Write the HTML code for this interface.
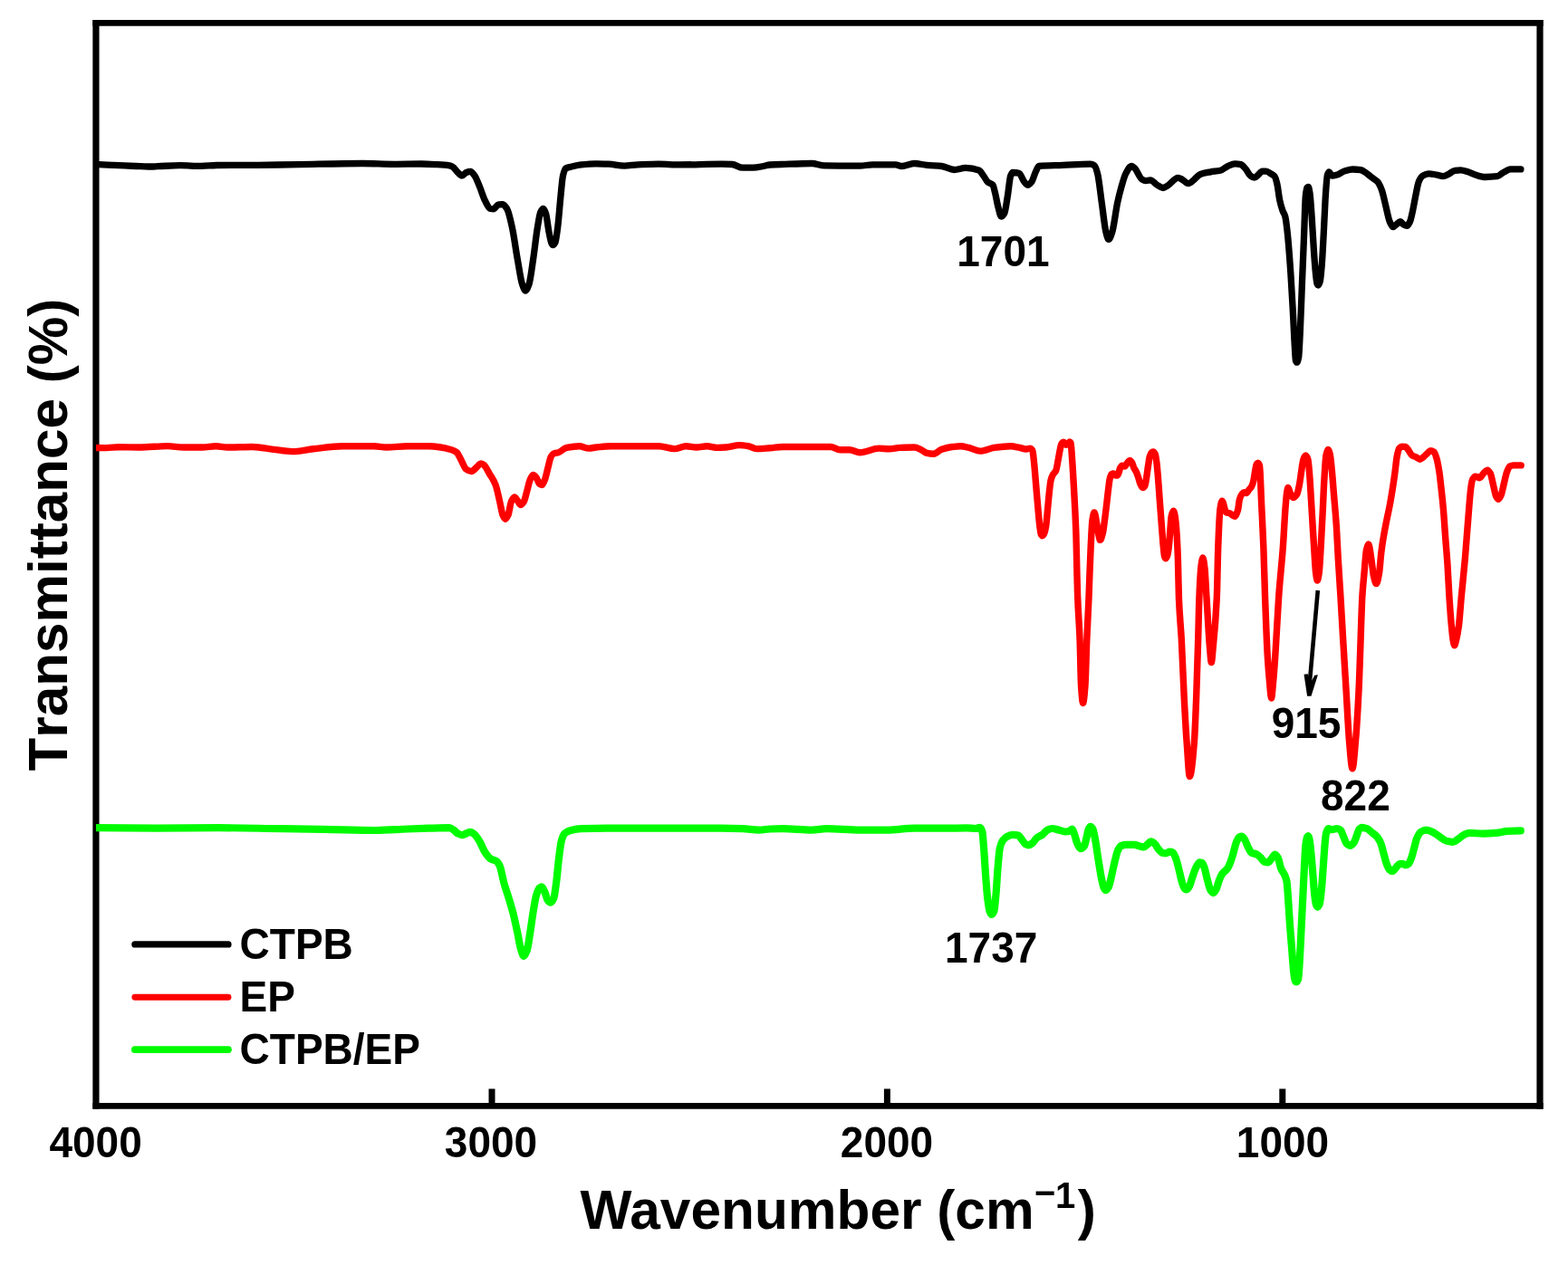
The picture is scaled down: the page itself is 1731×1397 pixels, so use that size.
<!DOCTYPE html>
<html lang="en">
<head>
<meta charset="utf-8">
<title>FTIR spectra: CTPB, EP, CTPB/EP</title>
<style>
html,body{margin:0;padding:0;background:#fff;}
body{width:1731px;height:1397px;overflow:hidden;}
svg{display:block;}
text{font-family:"Liberation Sans",Arial,Helvetica,sans-serif;font-weight:bold;fill:#000;font-kerning:none;}
.curve{fill:none;stroke-linejoin:round;stroke-linecap:round;}
.leg{fill:none;stroke-linecap:round;}
</style>
</head>
<body>
<svg width="1731" height="1397" viewBox="0 0 1731 1397">
<rect x="0" y="0" width="1731" height="1397" fill="#ffffff"/>
<g stroke="#000" stroke-linecap="butt">
<line x1="102.35" y1="25.45" x2="1703.60" y2="25.45" stroke-width="6.7"/>
<line x1="102.35" y1="1221.4" x2="1703.60" y2="1221.4" stroke-width="6.85"/>
<line x1="105.95" y1="22.10" x2="105.95" y2="1224.83" stroke-width="7.2"/>
<line x1="1700.0" y1="22.10" x2="1700.0" y2="1224.83" stroke-width="7.2"/>
</g>
<g stroke="#000" stroke-width="7.0">
<line x1="543.0" y1="1221.4" x2="543.0" y2="1202.45"/><line x1="979.4" y1="1221.4" x2="979.4" y2="1202.45"/><line x1="1415.8" y1="1221.4" x2="1415.8" y2="1202.45"/>
</g>
<clipPath id="plotclip"><rect x="105.95" y="25.45" width="1594.05" height="1195.95"/></clipPath>
<g clip-path="url(#plotclip)">
<path class="curve" d="M106.0,181.4C112.3,181.8 118.7,182.1 125.0,182.4C133.3,182.8 141.7,183.2 150.0,183.5C153.3,183.6 156.7,183.7 160.0,183.8C162.3,183.9 164.7,184.0 167.0,184.0C169.3,184.0 171.7,183.8 174.0,183.7C182.3,183.4 190.7,182.7 199.0,182.7C206.7,182.7 214.3,183.4 222.0,183.4C227.7,183.4 233.3,182.6 239.0,182.5C254.3,182.4 269.7,182.4 285.0,182.3C300.3,182.2 315.7,181.8 331.0,181.6C354.0,181.2 377.0,180.5 400.0,180.5C411.7,180.5 423.3,181.3 435.0,181.3C445.0,181.3 455.0,181.0 465.0,181.0C470.0,181.0 475.0,181.3 480.0,181.6C485.4,181.9 490.8,182.1 496.2,182.9C497.4,183.1 498.5,183.6 499.7,184.2C501.6,185.2 503.6,188.8 505.5,190.5C507.0,191.9 508.5,194.0 510.0,194.0C511.6,194.0 513.1,191.1 514.7,190.5C516.2,189.9 517.8,189.3 519.3,189.3C520.9,189.3 522.4,191.9 524.0,194.0C525.9,196.6 527.8,202.2 529.7,206.7C531.6,211.3 533.6,218.0 535.5,221.7C537.4,225.4 539.4,230.1 541.3,230.5C542.4,230.7 543.6,230.9 544.7,230.9C546.6,230.9 548.6,226.0 550.5,225.8C552.0,225.7 553.6,225.6 555.1,225.6C556.7,225.6 558.2,228.2 559.8,230.9C561.7,234.1 563.6,243.1 565.5,251.7C567.4,260.5 569.4,275.6 571.3,286.4C573.1,296.2 574.8,309.2 576.6,314.1C577.8,317.3 578.9,321.0 580.1,321.0C581.4,321.0 582.7,317.6 584.0,314.1C585.5,310.0 587.1,296.6 588.6,286.4C590.2,276.0 591.7,261.0 593.3,251.7C594.4,244.9 595.6,236.7 596.7,234.4C597.7,232.4 598.7,230.5 599.7,230.5C600.6,230.5 601.6,233.0 602.5,235.5C603.7,238.6 604.8,250.6 606.0,256.3C607.0,261.2 608.0,267.4 609.0,269.0C609.5,269.9 610.1,270.7 610.6,270.7C611.4,270.7 612.1,269.4 612.9,267.9C613.9,265.9 614.9,257.3 615.9,249.4C616.8,242.1 617.8,228.6 618.7,219.4C619.6,210.2 620.6,197.9 621.5,194.0C622.5,189.8 623.5,186.5 624.5,185.9C626.4,184.8 628.3,184.7 630.2,184.2C634.1,183.3 637.9,182.3 641.8,181.9C647.2,181.3 652.6,180.8 658.0,180.8C662.6,180.8 667.2,181.0 671.8,181.2C677.6,181.5 683.4,183.1 689.2,183.1C694.2,183.1 699.2,182.1 704.2,181.9C711.8,181.6 719.4,181.2 727.0,181.2C734.7,181.2 742.3,181.9 750.0,181.9C765.5,181.9 781.1,181.2 796.6,181.2C800.5,181.2 804.3,181.3 808.2,181.5C812.0,181.7 815.9,185.2 819.7,185.2C823.6,185.2 827.4,185.2 831.3,185.2C835.1,185.2 839.0,184.2 842.8,183.5C845.2,183.1 847.6,182.2 850.0,182.0C854.3,181.7 858.7,181.6 863.0,181.5C874.1,181.1 885.1,180.5 896.2,180.5C900.8,180.5 905.4,182.8 910.0,182.9C923.1,183.1 936.3,183.1 949.4,183.1C954.0,183.1 958.6,181.9 963.2,181.9C971.7,181.9 980.1,181.9 988.6,181.9C990.9,181.9 993.3,183.5 995.6,183.5C1000.2,183.5 1004.8,180.5 1009.4,180.5C1014.0,180.5 1018.7,182.0 1023.3,182.4C1028.7,182.9 1034.1,182.9 1039.5,183.5C1044.1,184.0 1048.7,187.5 1053.3,187.5C1057.5,187.5 1061.8,185.4 1066.0,185.4C1071.0,185.4 1076.0,186.3 1081.0,188.2C1082.6,188.8 1084.1,191.9 1085.7,194.0C1087.2,196.1 1088.8,199.6 1090.3,200.9C1092.2,202.5 1094.1,202.2 1096.0,204.3C1096.8,205.2 1097.6,209.3 1098.4,212.4C1099.6,216.9 1100.7,224.3 1101.9,228.6C1103.0,232.8 1104.2,239.0 1105.3,239.0C1106.5,239.0 1107.6,237.5 1108.8,235.5C1110.0,233.5 1111.1,223.9 1112.3,217.0C1113.4,210.3 1114.6,196.7 1115.7,194.0C1116.5,192.2 1117.2,190.5 1118.0,190.5C1120.3,190.5 1122.7,190.7 1125.0,191.2C1126.9,191.6 1128.9,198.7 1130.8,200.9C1132.1,202.4 1133.4,204.3 1134.7,204.3C1136.1,204.3 1137.4,202.6 1138.8,200.9C1140.4,199.0 1141.9,192.4 1143.5,189.3C1144.6,187.0 1145.8,183.6 1146.9,183.5C1155.8,182.6 1164.6,182.8 1173.5,182.4C1183.5,182.0 1193.6,181.2 1203.6,181.2C1205.1,181.2 1206.7,181.9 1208.2,182.9C1209.3,183.7 1210.5,187.5 1211.6,191.6C1213.2,197.3 1214.7,213.1 1216.3,224.0C1217.8,234.7 1219.4,250.5 1220.9,256.3C1221.9,260.1 1222.9,264.4 1223.9,264.4C1225.2,264.4 1226.5,260.1 1227.8,256.3C1229.7,250.6 1231.7,233.0 1233.6,224.0C1235.1,216.9 1236.7,210.8 1238.2,205.5C1239.7,200.2 1241.3,194.4 1242.8,191.6C1245.0,187.6 1247.1,183.3 1249.3,183.3C1250.5,183.3 1251.6,184.8 1252.8,185.9C1255.4,188.4 1258.0,196.5 1260.6,198.0C1262.0,198.9 1263.5,199.7 1264.9,199.7C1266.6,199.7 1268.3,198.9 1270.0,198.9C1272.3,198.9 1274.7,202.6 1277.0,204.0C1279.3,205.4 1281.7,207.5 1284.0,207.5C1285.7,207.5 1287.5,205.9 1289.2,204.9C1292.9,202.7 1296.7,196.3 1300.4,196.3C1302.1,196.3 1303.7,197.5 1305.4,198.4C1307.5,199.5 1309.7,202.7 1311.8,202.7C1314.0,202.7 1316.1,200.1 1318.3,198.4C1320.4,196.8 1322.6,193.5 1324.7,192.6C1328.6,191.0 1332.6,190.5 1336.5,189.8C1340.1,189.2 1343.6,189.1 1347.2,188.3C1350.1,187.6 1352.9,184.5 1355.8,183.3C1358.3,182.2 1360.8,180.8 1363.3,180.8C1365.5,180.8 1367.6,181.1 1369.8,181.6C1371.6,182.0 1373.4,184.6 1375.2,186.6C1377.0,188.6 1378.7,192.8 1380.5,194.1C1381.9,195.1 1383.4,196.2 1384.8,196.2C1386.2,196.2 1387.7,194.2 1389.1,193.0C1390.5,191.8 1392.0,189.1 1393.4,189.1C1394.8,189.1 1396.3,189.1 1397.7,189.1C1399.5,189.1 1401.3,190.8 1403.1,191.9C1404.5,192.8 1406.0,193.3 1407.4,195.2C1408.3,196.3 1409.1,200.0 1410.0,203.8C1410.9,207.7 1411.8,216.7 1412.7,220.9C1413.8,226.0 1414.9,229.6 1416.0,232.7C1416.9,235.3 1417.9,235.9 1418.8,239.2C1419.6,242.2 1420.5,249.8 1421.3,257.4C1422.5,268.3 1423.7,284.9 1424.9,302.5C1425.7,314.7 1426.6,330.3 1427.4,345.5C1428.1,357.7 1428.7,373.5 1429.4,384.1C1429.7,389.4 1430.1,397.0 1430.4,398.1C1430.8,399.4 1431.2,400.2 1431.6,400.2C1432.3,400.2 1432.9,398.0 1433.6,394.9C1434.2,392.3 1434.7,378.2 1435.3,367.0C1436.0,353.1 1436.7,330.8 1437.4,313.3C1438.1,295.0 1438.9,277.8 1439.6,259.6C1440.2,245.5 1440.7,222.2 1441.3,216.6C1441.8,211.7 1442.3,207.8 1442.8,207.3C1443.3,206.8 1443.8,206.4 1444.3,206.4C1444.9,206.4 1445.4,209.9 1446.0,213.3C1446.7,217.7 1447.5,230.0 1448.2,240.3C1448.9,250.1 1449.6,264.6 1450.3,274.6C1451.0,285.1 1451.8,295.9 1452.5,302.5C1453.0,307.0 1453.5,312.2 1454.0,313.3C1454.4,314.2 1454.9,315.0 1455.3,315.0C1455.9,315.0 1456.6,313.2 1457.2,311.1C1457.9,308.8 1458.6,300.2 1459.3,291.8C1460.0,283.0 1460.8,266.6 1461.5,253.1C1462.2,240.2 1462.9,221.9 1463.6,212.3C1464.2,204.1 1464.8,194.9 1465.4,193.0C1466.0,191.2 1466.5,189.8 1467.1,189.8C1468.3,189.8 1469.5,194.1 1470.7,194.1C1472.5,194.1 1474.3,193.5 1476.1,193.0C1479.0,192.2 1481.8,189.5 1484.7,188.7C1487.6,187.9 1490.4,187.0 1493.3,187.0C1496.2,187.0 1499.0,187.2 1501.9,187.6C1504.4,187.9 1506.9,190.2 1509.4,191.9C1511.2,193.1 1512.9,194.8 1514.7,196.2C1516.9,197.9 1519.0,198.7 1521.2,201.2C1522.6,202.9 1524.1,206.3 1525.5,210.2C1526.9,214.1 1528.4,221.7 1529.8,227.4C1531.2,233.1 1532.7,241.4 1534.1,244.6C1535.4,247.4 1536.6,250.6 1537.9,250.6C1539.1,250.6 1540.4,248.7 1541.6,247.8C1543.0,246.7 1544.5,244.6 1545.9,244.6C1547.0,244.6 1548.0,247.2 1549.1,247.8C1550.5,248.6 1552.0,249.3 1553.4,249.3C1554.5,249.3 1555.5,246.9 1556.6,244.6C1557.7,242.3 1558.7,236.5 1559.8,231.7C1560.9,226.7 1562.0,219.7 1563.1,214.5C1564.2,209.4 1565.2,202.9 1566.3,200.5C1567.7,197.2 1569.2,194.9 1570.6,194.1C1572.7,192.9 1574.9,191.9 1577.0,191.9C1579.9,191.9 1582.7,192.5 1585.6,193.0C1588.1,193.4 1590.6,194.7 1593.1,194.7C1595.2,194.7 1597.3,193.2 1599.4,192.2C1601.5,191.2 1603.7,188.8 1605.8,188.5C1608.0,188.2 1610.1,187.9 1612.3,187.9C1615.0,187.9 1617.8,189.0 1620.5,189.8C1623.2,190.6 1625.9,192.2 1628.6,193.0C1632.4,194.1 1636.1,195.5 1639.9,195.5C1644.2,195.5 1648.6,195.2 1652.9,194.7C1655.1,194.4 1657.2,191.8 1659.4,190.6C1662.1,189.2 1664.8,186.9 1667.5,186.9C1671.3,186.9 1675.1,186.9 1678.9,186.9" stroke="#000000" stroke-width="7.3"/>
<path class="curve" d="M105.8,494.5C109.5,494.6 113.3,494.6 117.0,494.6C121.7,494.6 126.3,493.7 131.0,493.7C138.7,493.7 146.3,494.0 154.0,494.0C164.4,494.0 174.7,492.6 185.1,492.6C190.9,492.6 196.7,494.0 202.5,494.0C209.4,494.0 216.4,494.0 223.3,494.0C228.3,494.0 233.3,492.8 238.3,492.8C242.5,492.8 246.8,494.0 251.0,494.0C260.2,494.0 269.5,493.5 278.7,493.5C286.4,493.5 294.1,495.4 301.8,496.3C308.7,497.1 315.7,498.6 322.6,498.6C330.3,498.6 338.0,496.6 345.7,495.8C356.5,494.7 367.3,492.8 378.1,492.8C389.7,492.8 401.2,492.8 412.8,492.8C417.4,492.8 422.0,494.0 426.6,494.0C434.3,494.0 442.0,492.8 449.7,492.8C457.5,492.8 465.3,492.8 473.1,492.8C481.6,492.8 490.0,494.4 498.5,496.7C500.4,497.2 502.4,498.1 504.3,499.7C505.8,501.0 507.4,505.1 508.9,507.8C510.8,511.2 512.8,516.9 514.7,518.2C516.6,519.5 518.6,520.5 520.5,520.5C522.4,520.5 524.4,517.5 526.3,515.9C527.8,514.6 529.4,512.0 530.9,512.0C532.0,512.0 533.2,512.8 534.3,513.6C536.2,514.9 538.2,519.5 540.1,522.8C542.4,526.7 544.8,529.5 547.1,535.5C548.6,539.4 550.2,547.5 551.7,554.0C552.8,558.8 554.0,566.5 555.1,569.0C556.0,571.1 557.0,573.2 557.9,573.2C558.9,573.2 559.9,571.1 560.9,569.0C562.1,566.6 563.2,556.5 564.4,554.0C565.6,551.5 566.7,549.0 567.9,549.0C569.0,549.0 570.2,551.5 571.3,552.9C572.5,554.3 573.6,557.5 574.8,557.5C576.0,557.5 577.1,555.8 578.3,554.0C579.4,552.2 580.6,546.5 581.7,542.5C582.9,538.4 584.0,532.3 585.2,529.8C586.3,527.3 587.5,524.5 588.6,524.5C589.8,524.5 590.9,526.1 592.1,527.5C593.3,528.9 594.4,533.7 595.6,534.4C596.5,535.0 597.5,535.5 598.4,535.5C599.4,535.5 600.4,532.3 601.4,529.8C602.5,527.0 603.7,521.2 604.8,517.0C606.0,512.7 607.1,506.3 608.3,504.3C609.3,502.6 610.3,501.3 611.3,500.9C613.0,500.2 614.7,500.2 616.4,499.7C619.5,498.7 622.5,495.0 625.6,494.4C630.2,493.5 634.9,492.8 639.5,492.8C643.0,492.8 646.4,495.1 649.9,495.1C652.6,495.1 655.3,494.3 658.0,494.0C663.4,493.5 668.7,492.8 674.1,492.8C691.8,492.8 709.6,492.8 727.3,492.8C733.1,492.8 738.8,495.6 744.6,495.6C748.8,495.6 753.1,492.8 757.3,492.8C761.2,492.8 765.0,494.0 768.9,494.0C772.7,494.0 776.6,492.8 780.4,492.8C784.3,492.8 788.1,494.4 792.0,494.4C795.1,494.4 798.1,494.2 801.2,494.0C806.2,493.7 811.3,491.6 816.3,491.6C819.8,491.6 823.2,492.2 826.7,492.8C829.4,493.3 832.1,495.6 834.8,495.6C839.9,495.6 844.9,495.1 850.0,494.8C854.6,494.5 859.3,493.5 863.9,493.5C874.7,493.5 885.4,493.5 896.2,493.5C903.1,493.5 910.1,493.5 917.0,493.5C920.5,493.5 923.9,496.7 927.4,496.7C930.9,496.7 934.3,496.7 937.8,496.7C941.7,496.7 945.5,499.7 949.4,499.7C956.3,499.7 963.3,495.1 970.2,495.1C974.0,495.1 977.9,495.8 981.7,495.8C985.6,495.8 989.4,494.6 993.3,494.4C998.7,494.2 1004.0,494.0 1009.4,494.0C1011.7,494.0 1014.1,495.3 1016.4,496.3C1018.7,497.3 1021.0,499.9 1023.3,500.4C1025.6,500.9 1027.9,501.3 1030.2,501.3C1033.3,501.3 1036.4,497.4 1039.5,496.3C1043.3,495.0 1047.2,493.9 1051.0,493.5C1054.1,493.2 1057.2,492.8 1060.3,492.8C1063.4,492.8 1066.4,493.7 1069.5,494.4C1073.7,495.3 1078.0,498.1 1082.2,498.1C1087.2,498.1 1092.3,495.1 1097.3,494.4C1103.4,493.6 1109.6,492.8 1115.7,492.8C1119.0,492.8 1122.4,493.8 1125.7,494.4C1128.1,494.9 1130.5,496.1 1132.9,496.1C1134.3,496.1 1135.8,495.1 1137.2,495.1C1138.1,495.1 1138.9,496.0 1139.8,497.5C1140.4,498.5 1140.9,505.0 1141.5,510.1C1142.2,516.4 1142.9,526.2 1143.6,534.4C1144.3,542.9 1145.1,552.2 1145.8,560.2C1146.5,567.8 1147.2,576.4 1147.9,581.7C1148.4,585.2 1148.8,589.5 1149.3,590.3C1149.8,591.1 1150.3,591.7 1150.8,591.7C1151.4,591.7 1152.0,590.7 1152.6,589.6C1153.3,588.4 1153.9,585.5 1154.6,581.7C1155.2,578.1 1155.9,569.5 1156.5,563.1C1157.1,556.7 1157.8,548.6 1158.4,543.0C1159.0,538.0 1159.5,532.5 1160.1,530.2C1160.8,527.3 1161.5,525.7 1162.2,524.4C1163.4,522.1 1164.6,522.1 1165.8,519.4C1166.5,517.7 1167.3,512.5 1168.0,508.7C1168.7,505.1 1169.4,500.5 1170.1,497.2C1170.7,494.5 1171.2,490.9 1171.8,490.1C1172.6,489.1 1173.3,488.3 1174.1,488.3C1174.9,488.3 1175.7,491.2 1176.5,491.2C1177.2,491.2 1178.0,491.0 1178.7,490.8C1179.4,490.6 1180.1,487.9 1180.8,487.9C1181.2,487.9 1181.7,488.3 1182.1,489.0C1182.5,489.6 1182.9,497.6 1183.3,502.9C1184.2,514.5 1185.0,529.6 1185.9,545.9C1186.6,558.4 1187.2,569.0 1187.9,588.8C1188.2,598.7 1188.6,618.9 1188.9,631.8C1189.2,642.1 1189.4,653.0 1189.7,660.0C1190.5,681.1 1191.3,686.2 1192.1,707.0C1192.6,719.1 1193.0,749.8 1193.5,757.0C1194.2,767.7 1194.9,776.5 1195.6,776.5C1196.4,776.5 1197.2,767.3 1198.0,757.0C1198.6,749.3 1199.2,721.6 1199.8,707.0C1200.5,689.2 1201.3,678.1 1202.0,660.0C1202.3,651.8 1202.7,640.4 1203.0,631.8C1203.4,621.4 1203.8,611.2 1204.2,603.2C1204.8,591.9 1205.3,578.3 1205.9,574.5C1206.6,569.8 1207.3,565.9 1208.0,565.9C1209.0,565.9 1209.9,573.8 1210.9,578.8C1211.5,582.1 1212.2,587.5 1212.8,590.3C1213.4,592.8 1213.9,596.4 1214.5,596.4C1215.5,596.4 1216.4,592.5 1217.4,588.8C1218.1,586.1 1218.8,579.7 1219.5,574.5C1220.2,569.3 1220.9,563.3 1221.6,557.4C1222.2,552.3 1222.8,546.3 1223.4,541.6C1224.0,536.9 1224.6,531.0 1225.2,528.7C1225.8,526.3 1226.5,524.1 1227.1,523.7C1227.8,523.3 1228.4,523.0 1229.1,523.0C1230.0,523.0 1230.8,525.1 1231.7,525.1C1232.3,525.1 1232.9,525.1 1233.5,525.1C1234.1,525.1 1234.6,523.1 1235.2,521.6C1235.7,520.3 1236.2,517.4 1236.7,516.5C1237.4,515.3 1238.1,514.1 1238.8,514.1C1239.8,514.1 1240.7,515.1 1241.7,515.1C1242.6,515.1 1243.4,512.6 1244.3,511.5C1245.2,510.4 1246.2,508.4 1247.1,508.4C1247.9,508.4 1248.8,509.6 1249.6,510.8C1250.3,511.8 1251.0,515.0 1251.7,516.5C1252.7,518.6 1253.6,519.5 1254.6,521.6C1255.3,523.1 1256.0,525.2 1256.7,527.3C1257.4,529.5 1258.2,532.8 1258.9,534.4C1259.7,536.2 1260.6,538.5 1261.4,538.5C1262.2,538.5 1263.1,537.8 1263.9,536.6C1264.5,535.8 1265.1,530.9 1265.7,527.3C1266.3,523.7 1266.9,518.3 1267.5,514.4C1268.1,510.7 1268.6,506.3 1269.2,504.4C1269.8,502.4 1270.4,500.6 1271.0,500.1C1271.7,499.4 1272.5,498.9 1273.2,498.9C1273.9,498.9 1274.6,500.0 1275.3,501.5C1275.8,502.6 1276.3,506.4 1276.8,510.1C1277.3,513.5 1277.7,519.0 1278.2,524.4C1278.9,532.5 1279.6,543.7 1280.3,553.0C1281.0,562.8 1281.8,572.3 1282.5,581.7C1283.1,589.0 1283.6,597.6 1284.2,603.2C1284.7,607.8 1285.1,613.2 1285.6,614.6C1286.0,615.8 1286.4,616.8 1286.8,616.8C1287.4,616.8 1288.0,615.4 1288.6,613.9C1289.2,612.4 1289.8,608.1 1290.4,603.2C1290.9,599.4 1291.3,591.5 1291.8,586.0C1292.3,580.5 1292.7,572.3 1293.2,570.2C1293.9,566.8 1294.7,564.2 1295.4,564.2C1296.0,564.2 1296.6,567.2 1297.2,570.2C1297.8,573.2 1298.4,580.4 1299.0,588.8C1299.5,595.3 1299.9,604.3 1300.4,617.5C1300.7,626.9 1301.1,651.7 1301.4,660.0C1302.4,684.1 1303.3,688.2 1304.3,706.0C1305.3,724.4 1306.3,752.9 1307.3,772.0C1308.3,790.5 1309.2,807.8 1310.2,821.0C1311.3,835.6 1312.3,857.6 1313.4,857.6C1315.0,857.6 1316.7,840.2 1318.3,821.0C1319.1,812.0 1319.8,791.5 1320.6,772.0C1321.3,754.2 1322.0,730.4 1322.7,706.0C1323.1,692.1 1323.5,669.6 1323.9,660.0C1324.6,643.1 1325.3,630.1 1326.0,625.0C1326.6,620.4 1327.3,616.0 1327.9,616.0C1328.6,616.0 1329.3,622.1 1330.0,628.0C1330.7,633.6 1331.3,649.4 1332.0,660.0C1333.2,678.5 1334.3,701.8 1335.5,715.0C1336.1,721.8 1336.7,731.6 1337.3,731.6C1337.9,731.6 1338.6,721.5 1339.2,715.0C1340.6,700.9 1341.9,689.2 1343.3,660.0C1343.8,649.3 1344.3,616.0 1344.8,603.2C1345.5,584.4 1346.3,567.0 1347.0,562.0C1347.7,557.2 1348.4,553.1 1349.1,553.1C1350.6,553.1 1352.2,565.3 1353.7,565.9C1354.9,566.4 1356.1,566.3 1357.3,566.7C1359.2,567.3 1361.1,570.2 1363.0,570.2C1364.2,570.2 1365.4,566.9 1366.6,563.1C1367.2,561.2 1367.8,553.7 1368.4,551.6C1369.2,548.7 1370.1,546.8 1370.9,545.9C1371.8,544.8 1372.8,543.8 1373.7,543.8C1374.4,543.8 1375.2,544.5 1375.9,544.5C1376.8,544.5 1377.8,542.1 1378.7,540.9C1379.7,539.7 1380.6,539.0 1381.6,537.3C1382.3,536.1 1383.0,534.2 1383.7,531.6C1384.3,529.2 1385.0,523.3 1385.6,520.1C1386.2,517.2 1386.7,513.3 1387.3,512.5C1387.8,511.8 1388.3,511.2 1388.8,511.2C1389.4,511.2 1389.9,512.3 1390.5,514.0C1391.3,516.2 1392.0,544.3 1392.8,560.2C1393.5,574.1 1394.1,586.1 1394.8,603.2C1395.4,618.6 1396.0,643.4 1396.6,660.0C1397.5,683.9 1398.3,708.4 1399.2,723.0C1400.0,735.9 1400.7,744.9 1401.5,753.0C1402.2,760.1 1402.8,771.0 1403.5,771.0C1404.2,771.0 1404.9,760.2 1405.6,753.0C1406.4,745.1 1407.1,734.2 1407.9,723.0C1409.1,705.0 1410.4,677.4 1411.6,660.0C1413.2,637.5 1414.8,625.2 1416.4,603.2C1417.3,590.8 1418.2,571.2 1419.1,560.2C1419.7,553.3 1420.2,546.0 1420.8,543.0C1421.2,540.9 1421.6,538.5 1422.0,538.5C1422.8,538.5 1423.7,543.4 1424.5,545.0C1425.5,546.9 1426.4,549.5 1427.4,549.5C1428.8,549.5 1430.3,548.0 1431.7,545.9C1432.7,544.5 1433.6,539.3 1434.6,534.4C1435.3,530.8 1436.0,524.5 1436.7,520.1C1437.4,515.5 1438.2,509.2 1438.9,507.2C1439.7,505.0 1440.5,503.0 1441.3,503.0C1442.2,503.0 1443.0,504.7 1443.9,507.2C1444.5,508.9 1445.1,517.2 1445.7,524.4C1446.3,531.6 1446.9,543.3 1447.5,553.1C1448.1,562.4 1448.6,572.4 1449.2,581.7C1449.8,591.5 1450.4,601.3 1451.0,610.3C1451.5,617.8 1452.0,627.9 1452.5,631.8C1453.1,636.4 1453.7,641.1 1454.3,641.1C1455.0,641.1 1455.6,636.6 1456.3,631.8C1456.9,627.3 1457.6,613.8 1458.2,603.2C1458.8,592.6 1459.5,580.0 1460.1,567.4C1460.7,556.1 1461.2,541.0 1461.8,531.6C1462.5,519.9 1463.2,506.4 1463.9,503.0C1464.6,499.4 1465.4,496.5 1466.1,496.5C1466.8,496.5 1467.5,498.9 1468.2,501.5C1468.9,504.2 1469.7,512.7 1470.4,520.1C1471.1,527.1 1471.8,537.3 1472.5,545.9C1473.5,557.8 1474.4,567.1 1475.4,581.7C1476.0,591.3 1476.7,606.6 1477.3,617.5C1478.2,633.0 1479.1,645.2 1480.0,660.0C1480.8,673.7 1481.7,688.9 1482.5,703.0C1483.8,724.4 1485.0,745.0 1486.3,766.0C1487.3,783.1 1488.4,805.6 1489.4,817.5C1490.6,831.3 1491.8,848.8 1493.0,848.8C1494.2,848.8 1495.4,831.1 1496.6,817.5C1497.9,803.1 1499.1,782.0 1500.4,754.5C1501.0,741.5 1501.6,719.6 1502.2,703.0C1502.7,688.2 1503.3,669.1 1503.8,660.0C1504.5,647.5 1505.3,641.5 1506.0,633.2C1506.8,623.8 1507.7,610.6 1508.5,607.0C1509.2,603.8 1510.0,600.9 1510.7,600.9C1511.8,600.9 1512.8,611.0 1513.9,617.5C1514.8,622.8 1515.6,632.8 1516.5,636.4C1517.5,640.4 1518.4,644.6 1519.4,644.6C1520.4,644.6 1521.5,638.8 1522.5,633.2C1523.3,628.8 1524.1,616.0 1524.9,609.6C1525.7,603.4 1526.4,598.6 1527.2,593.9C1528.3,587.4 1529.3,582.0 1530.4,576.5C1531.7,569.8 1533.0,564.5 1534.3,557.6C1535.4,551.9 1536.4,545.5 1537.5,538.7C1538.3,533.8 1539.0,528.6 1539.8,523.0C1540.6,517.2 1541.4,508.1 1542.2,504.1C1543.0,500.1 1543.8,496.4 1544.6,495.4C1545.6,494.1 1546.7,493.1 1547.7,493.1C1549.0,493.1 1550.4,493.2 1551.7,493.4C1552.7,493.6 1553.8,495.7 1554.8,497.0C1556.1,498.7 1557.4,501.9 1558.7,502.8C1560.3,503.9 1561.9,504.1 1563.5,504.9C1564.8,505.6 1566.1,507.2 1567.4,507.2C1568.7,507.2 1570.0,505.8 1571.3,504.9C1572.9,503.7 1574.5,501.6 1576.1,500.2C1577.1,499.3 1578.2,497.8 1579.2,497.8C1580.5,497.8 1581.8,498.3 1583.1,499.1C1584.0,499.7 1584.9,502.8 1585.8,505.7C1586.8,508.8 1587.7,513.8 1588.7,519.8C1589.5,524.5 1590.2,531.8 1591.0,538.7C1591.8,545.9 1592.6,553.2 1593.4,562.4C1594.2,571.2 1594.9,583.6 1595.7,593.9C1596.5,604.6 1597.3,613.1 1598.1,625.4C1598.7,635.1 1599.4,650.3 1600.0,660.0C1600.8,672.3 1601.6,683.2 1602.4,691.5C1603.0,698.1 1603.7,705.0 1604.3,708.0C1604.8,710.2 1605.2,712.7 1605.7,712.7C1606.2,712.7 1606.8,710.0 1607.3,708.0C1608.3,704.2 1609.4,699.0 1610.4,691.5C1611.3,684.7 1612.3,670.1 1613.2,660.0C1614.6,645.2 1615.9,633.2 1617.3,617.5C1618.5,603.4 1619.8,584.9 1621.0,570.2C1621.9,559.1 1622.9,545.0 1623.8,538.7C1624.4,534.5 1625.1,530.4 1625.7,529.3C1626.7,527.4 1627.8,526.1 1628.8,526.1C1630.4,526.1 1631.9,527.7 1633.5,527.7C1634.8,527.7 1636.2,524.3 1637.5,523.0C1639.1,521.5 1640.6,519.1 1642.2,519.1C1643.3,519.1 1644.3,521.0 1645.4,523.0C1646.4,524.9 1647.5,531.5 1648.5,535.6C1649.6,539.9 1650.6,546.1 1651.7,548.2C1652.5,549.7 1653.2,551.3 1654.0,551.3C1655.1,551.3 1656.1,548.9 1657.2,546.6C1658.2,544.4 1659.3,538.1 1660.3,534.0C1661.4,529.7 1662.4,524.3 1663.5,521.4C1664.5,518.6 1665.6,515.7 1666.6,515.1C1667.9,514.4 1669.3,513.9 1670.6,513.9C1673.5,513.9 1676.3,513.9 1679.2,513.9" stroke="#ff0000" stroke-width="7.4"/>
<path class="curve" d="M105.8,914.1C128.0,914.5 150.2,914.7 172.4,914.7C195.5,914.7 218.7,914.2 241.8,914.2C264.9,914.2 288.0,914.9 311.1,915.2C326.5,915.4 341.9,915.6 357.3,915.9C376.6,916.2 395.8,917.0 415.1,917.0C426.7,917.0 438.4,915.9 450.0,915.5C457.7,915.2 465.4,914.9 473.1,914.7C480.8,914.5 488.5,914.2 496.2,914.2C497.7,914.2 499.3,915.6 500.8,916.6C502.4,917.6 503.9,919.7 505.5,920.5C507.0,921.3 508.6,922.1 510.1,922.1C511.6,922.1 513.2,921.0 514.7,920.5C516.2,920.0 517.8,918.9 519.3,918.9C520.9,918.9 522.4,920.3 524.0,921.6C525.9,923.1 527.8,926.5 529.7,929.7C531.6,932.9 533.6,938.4 535.5,941.3C537.4,944.2 539.4,947.0 541.3,948.2C543.6,949.7 545.9,949.6 548.2,951.2C549.4,952.0 550.5,953.9 551.7,956.3C553.2,959.5 554.8,969.3 556.3,974.8C558.2,981.7 560.2,986.8 562.1,993.3C563.6,998.4 565.2,1003.3 566.7,1009.4C568.2,1015.5 569.8,1023.0 571.3,1030.2C572.5,1035.7 573.6,1043.6 574.8,1047.4C576.0,1051.2 577.1,1055.8 578.3,1055.8C579.4,1055.8 580.6,1052.8 581.7,1049.7C582.9,1046.5 584.0,1037.3 585.2,1030.2C586.3,1023.3 587.5,1013.8 588.6,1007.1C589.8,1000.2 590.9,992.3 592.1,988.6C593.3,984.9 594.4,981.5 595.6,980.6C596.4,980.0 597.1,979.4 597.9,979.4C599.1,979.4 600.2,982.8 601.4,985.2C602.5,987.5 603.7,993.1 604.8,994.4C605.8,995.6 606.8,996.7 607.8,996.7C609.0,996.7 610.1,994.7 611.3,992.1C612.2,990.0 613.2,981.8 614.1,974.8C615.0,968.1 615.9,956.6 616.8,949.4C617.8,941.4 618.8,932.1 619.8,928.6C621.0,924.5 622.1,921.5 623.3,920.5C625.6,918.4 627.9,917.6 630.2,917.0C634.1,916.0 637.9,915.3 641.8,915.2C651.0,914.9 660.3,914.7 669.5,914.7C688.8,914.7 708.0,914.7 727.3,914.7C750.4,914.7 773.5,914.7 796.6,914.7C804.3,914.7 812.0,914.9 819.7,915.2C825.9,915.4 832.0,916.6 838.2,916.6C842.1,916.6 846.1,915.6 850.0,915.5C854.6,915.3 859.3,915.2 863.9,915.2C874.7,915.2 885.4,916.6 896.2,916.6C901.6,916.6 907.0,915.2 912.4,915.2C924.7,915.2 937.1,916.6 949.4,916.6C959.4,916.6 969.4,916.6 979.4,916.6C989.4,916.6 999.4,914.7 1009.4,914.7C1021.0,914.7 1032.5,914.7 1044.1,914.7C1051.8,914.7 1059.5,914.4 1067.2,914.4C1070.6,914.4 1073.9,915.0 1077.3,915.0C1078.8,915.0 1080.2,913.8 1081.7,913.8C1082.6,913.8 1083.4,915.5 1084.3,918.1C1084.9,919.8 1085.4,928.7 1086.0,935.5C1086.7,943.9 1087.4,957.5 1088.1,966.7C1088.8,976.4 1089.6,986.8 1090.3,992.7C1091.1,998.8 1091.8,1004.5 1092.6,1006.5C1093.3,1008.3 1094.0,1010.0 1094.7,1010.0C1095.6,1010.0 1096.4,1008.6 1097.3,1006.5C1098.0,1004.8 1098.8,995.4 1099.5,987.5C1100.2,980.0 1100.9,966.1 1101.6,958.0C1102.3,949.9 1103.0,940.4 1103.7,937.2C1104.7,932.5 1105.8,930.0 1106.8,928.5C1108.5,926.0 1110.3,924.5 1112.0,923.7C1114.0,922.8 1116.1,921.9 1118.1,921.9C1120.1,921.9 1122.1,922.1 1124.1,922.5C1125.6,922.8 1127.0,925.9 1128.5,927.7C1129.6,929.1 1130.8,931.3 1131.9,932.0C1133.1,932.7 1134.2,933.4 1135.4,933.4C1136.8,933.4 1138.3,932.1 1139.7,931.1C1141.4,929.8 1143.2,926.4 1144.9,925.1C1146.9,923.5 1149.0,923.1 1151.0,921.6C1152.7,920.4 1154.5,917.5 1156.2,916.7C1157.9,915.9 1159.7,915.0 1161.4,915.0C1164.0,915.0 1166.6,916.1 1169.2,916.7C1171.5,917.2 1173.8,918.5 1176.1,918.5C1177.5,918.5 1179.0,918.4 1180.4,918.1C1181.4,917.9 1182.4,915.5 1183.4,915.5C1184.3,915.5 1185.3,919.2 1186.2,921.6C1187.2,924.1 1188.1,929.0 1189.1,931.1C1190.4,933.9 1191.8,937.2 1193.1,937.2C1194.4,937.2 1195.6,936.1 1196.9,934.6C1197.8,933.6 1198.6,928.5 1199.5,925.1C1200.3,922.1 1201.0,917.0 1201.8,915.5C1202.5,914.2 1203.1,912.9 1203.8,912.9C1204.7,912.9 1205.5,914.1 1206.4,915.5C1207.3,916.9 1208.1,922.3 1209.0,926.8C1210.2,932.8 1211.3,942.1 1212.5,949.3C1213.7,956.5 1214.8,964.6 1216.0,970.1C1216.9,974.2 1217.7,978.9 1218.6,980.5C1219.3,981.8 1220.1,983.1 1220.8,983.1C1221.8,983.1 1222.8,981.4 1223.8,979.7C1224.9,977.7 1226.1,971.4 1227.2,966.7C1228.4,961.9 1229.5,955.7 1230.7,951.1C1231.9,946.5 1233.0,941.2 1234.2,938.9C1235.3,936.6 1236.5,934.5 1237.6,934.1C1239.6,933.3 1241.7,932.9 1243.7,932.9C1246.6,932.9 1249.5,932.9 1252.4,932.9C1254.4,932.9 1256.4,934.1 1258.4,934.6C1259.9,934.9 1261.3,935.5 1262.8,935.5C1263.9,935.5 1265.1,933.8 1266.2,932.9C1267.7,931.8 1269.1,929.4 1270.6,929.4C1272.0,929.4 1273.5,930.8 1274.9,932.0C1276.3,933.2 1277.8,936.5 1279.2,938.1C1280.7,939.7 1282.1,941.7 1283.6,942.0C1284.7,942.2 1285.9,942.4 1287.0,942.4C1288.5,942.4 1289.9,940.7 1291.4,940.7C1292.5,940.7 1293.7,941.0 1294.8,941.5C1296.0,942.0 1297.1,945.5 1298.3,948.5C1299.5,951.5 1300.6,957.0 1301.8,961.5C1302.9,965.9 1304.1,972.0 1305.2,975.3C1306.1,977.8 1306.9,980.8 1307.8,981.4C1308.6,981.9 1309.3,982.3 1310.1,982.3C1311.1,982.3 1312.0,980.4 1313.0,978.8C1314.2,976.8 1315.3,971.7 1316.5,968.4C1317.9,964.4 1319.4,959.6 1320.8,957.1C1322.0,955.0 1323.1,952.4 1324.3,952.4C1325.2,952.4 1326.0,952.6 1326.9,952.8C1327.8,953.0 1328.6,955.7 1329.5,958.0C1330.7,961.1 1331.8,967.7 1333.0,971.9C1334.1,976.0 1335.3,981.4 1336.4,983.1C1337.4,984.6 1338.4,986.1 1339.4,986.1C1340.4,986.1 1341.5,984.1 1342.5,982.3C1343.7,980.3 1344.8,974.7 1346.0,971.9C1347.1,969.1 1348.3,966.5 1349.4,964.9C1351.1,962.5 1352.9,962.1 1354.6,959.7C1355.8,958.1 1356.9,955.6 1358.1,952.8C1359.0,950.6 1360.0,947.4 1360.9,944.4C1362.3,940.0 1363.6,933.1 1365.0,929.9C1366.1,927.4 1367.1,924.9 1368.2,924.3C1369.0,923.9 1369.8,923.5 1370.6,923.5C1371.7,923.5 1372.7,925.2 1373.8,926.7C1375.1,928.5 1376.5,933.2 1377.8,935.6C1379.2,938.1 1380.5,941.4 1381.9,942.0C1383.5,942.7 1385.1,942.5 1386.7,943.1C1388.3,943.7 1389.9,945.3 1391.5,946.8C1392.9,948.1 1394.2,951.2 1395.6,951.7C1396.9,952.2 1398.3,952.5 1399.6,952.5C1400.9,952.5 1402.3,949.9 1403.6,948.4C1404.9,946.9 1406.3,943.6 1407.6,943.6C1408.7,943.6 1409.8,945.6 1410.9,947.6C1412.0,949.5 1413.0,956.3 1414.1,958.9C1415.4,962.1 1416.8,963.1 1418.1,966.2C1418.9,968.1 1419.7,969.4 1420.5,973.4C1421.0,976.1 1421.6,985.5 1422.1,992.7C1422.6,999.9 1423.2,1009.4 1423.7,1016.9C1424.5,1028.6 1425.4,1038.7 1426.2,1049.1C1426.9,1057.4 1427.5,1067.7 1428.2,1073.2C1428.7,1077.3 1429.2,1081.9 1429.7,1082.9C1430.1,1083.8 1430.6,1084.5 1431.0,1084.5C1431.7,1084.5 1432.4,1083.2 1433.1,1081.3C1433.7,1079.6 1434.4,1067.0 1435.0,1057.1C1435.5,1048.7 1436.1,1035.6 1436.6,1024.9C1437.1,1014.2 1437.7,1003.4 1438.2,992.7C1438.7,982.0 1439.3,970.4 1439.8,960.5C1440.3,950.6 1440.9,937.4 1441.4,933.1C1442.0,928.6 1442.5,925.2 1443.1,924.3C1443.5,923.7 1443.8,923.2 1444.2,923.2C1444.6,923.2 1445.1,925.0 1445.5,926.7C1446.2,929.4 1446.9,937.5 1447.6,944.4C1448.2,950.7 1448.9,959.5 1449.5,967.0C1450.1,974.5 1450.8,984.5 1451.4,989.5C1451.9,993.7 1452.5,998.0 1453.0,999.2C1453.6,1000.5 1454.1,1001.6 1454.7,1001.6C1455.4,1001.6 1456.0,1000.1 1456.7,998.4C1457.4,996.6 1458.1,989.6 1458.8,983.1C1459.5,976.9 1460.1,966.3 1460.8,957.3C1461.3,950.1 1461.9,940.7 1462.4,934.8C1462.9,928.9 1463.5,922.2 1464.0,920.3C1464.8,917.4 1465.6,915.1 1466.4,915.1C1467.7,915.1 1469.1,916.2 1470.4,916.2C1472.3,916.2 1474.2,915.1 1476.1,915.1C1477.4,915.1 1478.8,915.9 1480.1,917.0C1481.2,917.9 1482.2,921.9 1483.3,924.3C1484.4,926.7 1485.4,930.5 1486.5,931.5C1487.9,932.8 1489.2,933.9 1490.6,933.9C1491.9,933.9 1493.3,932.3 1494.6,930.7C1495.7,929.4 1496.7,925.5 1497.8,922.7C1498.6,920.6 1499.4,917.2 1500.2,916.2C1501.3,914.9 1502.3,913.8 1503.4,913.8C1505.3,913.8 1507.2,914.4 1509.1,915.1C1511.0,915.8 1512.8,918.0 1514.7,919.5C1516.6,921.0 1518.5,922.1 1520.4,924.3C1521.7,925.9 1523.1,928.3 1524.4,931.5C1525.5,934.1 1526.5,939.0 1527.6,942.8C1528.7,946.6 1529.7,951.4 1530.8,954.1C1531.9,956.8 1532.9,959.6 1534.0,960.5C1535.0,961.4 1536.0,962.2 1537.0,962.2C1538.4,962.2 1539.7,959.5 1541.1,958.1C1542.4,956.8 1543.8,954.3 1545.1,954.1C1546.2,953.9 1547.2,953.8 1548.3,953.8C1549.4,953.8 1550.4,955.4 1551.5,955.4C1552.6,955.4 1553.7,954.8 1554.8,954.1C1555.9,953.4 1556.9,950.4 1558.0,947.7C1559.1,945.0 1560.1,940.2 1561.2,936.4C1562.3,932.6 1563.3,927.4 1564.4,925.1C1565.8,922.1 1567.1,919.5 1568.5,918.7C1570.4,917.6 1572.2,916.7 1574.1,916.7C1576.2,916.7 1578.4,917.5 1580.5,918.3C1583.2,919.3 1585.9,921.8 1588.6,923.5C1591.3,925.2 1593.9,927.9 1596.6,928.6C1599.0,929.3 1601.5,929.9 1603.9,929.9C1605.8,929.9 1607.6,927.9 1609.5,926.7C1611.7,925.3 1613.8,922.9 1616.0,921.9C1618.1,921.0 1620.3,919.9 1622.4,919.9C1627.2,919.9 1632.1,920.6 1636.9,920.6C1641.7,920.6 1646.6,920.3 1651.4,919.9C1655.7,919.6 1660.0,918.1 1664.3,917.9C1669.1,917.6 1674.0,917.4 1678.8,917.4" stroke="#00fb00" stroke-width="8.2"/>
</g>
<g font-size="46" text-anchor="middle">
<text transform="translate(105.6,1278.4) scale(1,1.04)">4000</text><text transform="translate(542,1278.4) scale(1,1.04)">3000</text><text transform="translate(979,1278.4) scale(1,1.04)">2000</text><text transform="translate(1416,1278.4) scale(1,1.04)">1000</text>
</g>
<text transform="translate(640.5,1357.4) scale(1,1.0)" font-size="60.4" style="font-kerning:normal">Wavenumber (cm<tspan font-size="40" dy="-26.0">−</tspan><tspan font-size="40" dy="3.0">1</tspan><tspan dy="23.0" dx="2.5">)</tspan></text>
<text transform="translate(73.7,590.6) rotate(-90) scale(1,1.0)" font-size="60.2" text-anchor="middle">Transmittance (%)</text>
<g font-size="46">
<text transform="translate(1056.3,294) scale(1,1.04)">1701</text>
<text transform="translate(1043,1062.6) scale(1,1.04)">1737</text>
<text transform="translate(1403.7,815) scale(1,1.04)">915</text>
<text transform="translate(1458,895.3) scale(1,1.04)">822</text>
</g>
<line x1="1454.8" y1="652.0" x2="1445.1" y2="762" stroke="#000" stroke-width="4.6"/>
<path d="M1439.5,744.7 L1443.8,744.2 L1446.2,755.2 L1451.3,745.7 L1454.9,745.2 L1447.5,768.8 L1443.1,768.8 Z" fill="#000"/>
<g class="leg">
<line x1="148.9" y1="1042.9" x2="252.0" y2="1042.9" stroke="#000" stroke-width="7.3"/>
<line x1="148.9" y1="1101.2" x2="252.0" y2="1101.2" stroke="#ff0000" stroke-width="6.9"/>
<line x1="148.9" y1="1159.2" x2="252.0" y2="1159.2" stroke="#00fb00" stroke-width="7.7"/>
</g>
<g font-size="46">
<text transform="translate(264.6,1058.5) scale(1,1.04)">CTPB</text>
<text transform="translate(264.6,1116.5) scale(1,1.04)">EP</text>
<text transform="translate(264.6,1174.9) scale(1,1.04)">CTPB/EP</text>
</g>
</svg>
</body>
</html>
